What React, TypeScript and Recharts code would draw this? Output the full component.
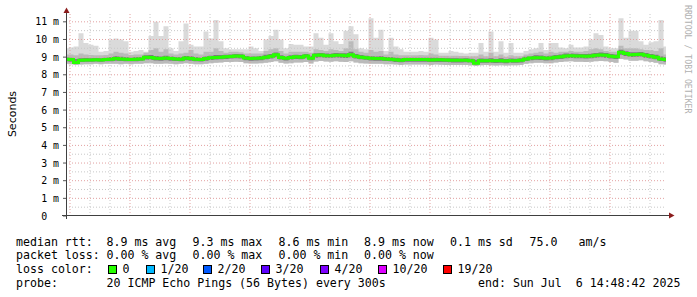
import React from "react";
import { ComposedChart, Area, Line, XAxis, YAxis, ReferenceLine } from "recharts";

// time axis: hours counted from Sat 00:00, one sample every 15 minutes
const START_HOUR = 8.8;
const END_HOUR = 38.8;
const STEP_HOURS = 0.25;

// median rtt (ms)
const medianMs = [
  8.88, 8.86, 8.7, 8.82, 8.84, 8.84, 8.85, 8.84, 8.87, 8.88, 8.92, 8.9, 8.88, 8.87, 8.88, 8.9, 8.99, 8.98, 8.93, 8.92, 8.95, 8.92, 8.9, 8.88,
  8.95, 8.92, 8.88, 8.86, 8.92, 8.96, 8.98, 9.0, 9.02, 9.04, 9.07, 9.05, 8.95, 8.92, 8.93, 8.95, 9.0, 9.05, 9.14, 8.98, 8.93, 8.98, 9.02, 9.0,
  9.06, 8.94, 9.1, 9.12, 9.08, 9.08, 9.1, 9.1, 9.08, 9.13, 9.05, 9.0, 8.97, 8.93, 8.92, 8.92, 8.9, 8.88, 8.85, 8.83, 8.86, 8.86, 8.86, 8.86,
  8.86, 8.84, 8.85, 8.85, 8.84, 8.82, 8.82, 8.82, 8.83, 8.8, 8.65, 8.8, 8.8, 8.8, 8.79, 8.8, 8.78, 8.8, 8.8, 8.82, 8.9, 8.95, 8.97, 8.96,
  8.93, 8.95, 9.0, 9.02, 9.07, 9.08, 9.06, 9.06, 9.05, 9.07, 9.1, 9.12, 9.1, 9.05, 9.02, 9.28, 9.2, 9.14, 9.15, 9.16, 9.1, 9.05, 9.0, 8.9, 8.86,
];

// fastest ping of each round (ms)
const minMs = [
  8.62, 8.6, 8.55, 8.58, 8.6, 8.6, 8.62, 8.6, 8.62, 8.63, 8.62, 8.6, 8.62, 8.6, 8.62, 8.63, 8.65, 8.66, 8.63, 8.62, 8.64, 8.62, 8.6, 8.62,
  8.65, 8.62, 8.6, 8.6, 8.62, 8.66, 8.68, 8.7, 8.72, 8.72, 8.74, 8.72, 8.66, 8.64, 8.64, 8.65, 8.68, 8.72, 8.76, 8.68, 8.64, 8.66, 8.7, 8.7,
  8.72, 8.64, 8.75, 8.78, 8.75, 8.74, 8.76, 8.74, 8.72, 8.76, 8.7, 8.66, 8.64, 8.62, 8.62, 8.62, 8.6, 8.6, 8.58, 8.56, 8.58, 8.58, 8.58, 8.58,
  8.58, 8.56, 8.58, 8.57, 8.56, 8.55, 8.56, 8.56, 8.56, 8.54, 8.5, 8.54, 8.55, 8.54, 8.53, 8.54, 8.52, 8.54, 8.54, 8.56, 8.62, 8.66, 8.68, 8.68,
  8.65, 8.66, 8.7, 8.72, 8.75, 8.76, 8.74, 8.74, 8.72, 8.74, 8.76, 8.78, 8.76, 8.72, 8.68, 8.9, 8.86, 8.8, 8.8, 8.82, 8.76, 8.72, 8.68, 8.6, 8.58,
];

// dense smoke around the median (ms)
const q1Ms = [
  8.76, 8.74, 8.62, 8.72, 8.74, 8.74, 8.75, 8.74, 8.76, 8.77, 8.8, 8.78, 8.77, 8.76, 8.77, 8.79, 8.86, 8.85, 8.81, 8.8, 8.83, 8.8, 8.78, 8.77,
  8.83, 8.8, 8.76, 8.75, 8.8, 8.84, 8.86, 8.88, 8.9, 8.92, 8.94, 8.92, 8.83, 8.8, 8.81, 8.83, 8.88, 8.92, 9.0, 8.86, 8.81, 8.86, 8.9, 8.88,
  8.93, 8.82, 8.97, 9.0, 8.96, 8.96, 8.98, 8.97, 8.95, 9.0, 8.92, 8.88, 8.85, 8.81, 8.8, 8.8, 8.78, 8.76, 8.73, 8.71, 8.74, 8.74, 8.74, 8.74,
  8.74, 8.72, 8.73, 8.73, 8.72, 8.7, 8.7, 8.7, 8.71, 8.68, 8.58, 8.68, 8.68, 8.68, 8.67, 8.68, 8.66, 8.68, 8.68, 8.7, 8.78, 8.83, 8.85, 8.84,
  8.81, 8.83, 8.88, 8.9, 8.94, 8.95, 8.93, 8.93, 8.92, 8.94, 8.97, 8.99, 8.97, 8.92, 8.9, 9.14, 9.07, 9.01, 9.02, 9.03, 8.97, 8.92, 8.88, 8.78, 8.74,
];
const q3Ms = [
  8.98, 8.96, 8.9, 8.93, 8.95, 8.94, 8.95, 8.94, 8.97, 9.0, 9.05, 9.02, 8.99, 8.97, 8.99, 9.0, 9.1, 9.12, 9.06, 9.04, 9.08, 9.03, 9.0, 8.99,
  9.06, 9.05, 9.0, 8.97, 9.04, 9.08, 9.12, 9.12, 9.13, 9.15, 9.18, 9.16, 9.06, 9.03, 9.04, 9.06, 9.13, 9.18, 9.26, 9.1, 9.04, 9.1, 9.13, 9.12,
  9.18, 9.08, 9.22, 9.24, 9.2, 9.21, 9.23, 9.22, 9.22, 9.3, 9.18, 9.12, 9.08, 9.05, 9.04, 9.05, 9.01, 8.99, 8.96, 8.94, 8.97, 8.97, 8.97, 8.97,
  8.97, 8.96, 8.96, 8.95, 8.94, 8.93, 8.93, 8.92, 8.93, 8.91, 8.85, 8.92, 8.91, 8.94, 8.9, 8.93, 8.89, 8.92, 8.91, 8.93, 9.02, 9.07, 9.1, 9.09,
  9.05, 9.08, 9.12, 9.15, 9.2, 9.21, 9.19, 9.18, 9.18, 9.21, 9.24, 9.26, 9.23, 9.18, 9.15, 9.42, 9.33, 9.27, 9.28, 9.29, 9.23, 9.18, 9.13, 9.04, 8.99,
];

// upper smoke, most of the pings (ms)
const p90Ms = [
  9.15, 9.15, 9.1, 9.2, 9.15, 9.12, 9.1, 9.1, 9.12, 9.2, 9.3, 9.25, 9.2, 9.12, 9.15, 9.15, 9.25, 9.4, 9.5, 9.3, 9.45, 9.2, 9.15, 9.2,
  9.25, 9.4, 9.2, 9.15, 9.3, 9.3, 9.5, 9.35, 9.25, 9.3, 9.3, 9.28, 9.2, 9.2, 9.2, 9.2, 9.35, 9.45, 9.5, 9.35, 9.2, 9.3, 9.3, 9.3,
  9.3, 9.25, 9.45, 9.4, 9.35, 9.45, 9.4, 9.35, 9.5, 9.9, 9.45, 9.3, 9.25, 9.4, 9.3, 9.35, 9.15, 9.3, 9.15, 9.1, 9.1, 9.1, 9.1, 9.12,
  9.1, 9.2, 9.15, 9.08, 9.08, 9.08, 9.08, 9.06, 9.06, 9.05, 9.05, 9.15, 9.05, 9.25, 9.05, 9.15, 9.02, 9.1, 9.05, 9.05, 9.15, 9.2, 9.25, 9.3,
  9.2, 9.3, 9.25, 9.3, 9.3, 9.35, 9.3, 9.3, 9.35, 9.45, 9.5, 9.45, 9.35, 9.3, 9.3, 9.65, 9.5, 9.5, 9.5, 9.45, 9.4, 9.4, 9.35, 9.5, 9.15,
];

// slowest ping of each round (ms)
const maxMs = [
  9.5, 9.55, 9.6, 10.35, 9.8, 9.7, 9.65, 9.3, 9.35, 10.0, 10.05, 10.0, 9.9, 9.3, 9.35, 9.4, 9.3, 10.2, 11.0, 10.2, 10.75, 9.5, 9.35, 9.9,
  10.9, 9.7, 9.6, 9.6, 10.45, 10.05, 11.1, 9.9, 9.5, 9.45, 9.45, 9.45, 9.45, 9.6, 9.5, 9.35, 10.0, 10.2, 10.55, 10.0, 9.5, 9.75, 9.7, 9.7,
  9.6, 9.6, 10.35, 10.1, 9.7, 10.35, 9.9, 9.75, 10.5, 10.75, 10.3, 9.5, 9.45, 11.2, 10.1, 10.55, 9.35, 10.1, 9.6, 9.45, 9.3, 9.3, 9.3, 9.35,
  9.3, 10.1, 10.0, 9.25, 9.25, 9.35, 9.3, 9.25, 9.2, 9.25, 9.25, 9.8, 9.3, 10.45, 9.3, 9.9, 9.25, 9.8, 9.25, 9.25, 9.35, 9.45, 9.5, 9.8,
  9.4, 9.8, 9.8, 9.55, 9.5, 9.7, 9.55, 9.55, 9.6, 10.0, 10.35, 10.25, 9.6, 9.5, 9.5, 11.2, 10.1, 10.5, 10.5, 9.9, 9.7, 9.85, 9.9, 11.1, 9.6,
];

const xTicks = [9, 12, 15, 18, 21, 24, 27, 30, 33, 36];
const xLabels: Record<number, string> = {
  12: "Sat 12:00",
  18: "Sat 18:00",
  24: "Sun 00:00",
  30: "Sun 06:00",
  36: "Sun 12:00",
};
const yTicks = [0, 1, 2, 3, 4, 5, 6, 7, 8, 9, 10, 11];
const hourLines = [9, 10, 11, 12, 13, 14, 15, 16, 17, 18, 19, 20, 21, 22, 23, 24, 25, 26, 27, 28, 29, 30, 31, 32, 33, 34, 35, 36, 37, 38];
const halfLines = [0.5, 1.5, 2.5, 3.5, 4.5, 5.5, 6.5, 7.5, 8.5, 9.5, 10.5];

const lossColors = [
  { label: "0", color: "#26ff00", x: 108 },
  { label: "1/20", color: "#00b8ff", x: 146 },
  { label: "2/20", color: "#0059ff", x: 203 },
  { label: "3/20", color: "#5e00ff", x: 261 },
  { label: "4/20", color: "#7e00ff", x: 320 },
  { label: "10/20", color: "#dd00ff", x: 378 },
  { label: "19/20", color: "#ff0000", x: 443 },
];

const data = medianMs.map((m, i) => ({
  t: START_HOUR + i * STEP_HOURS,
  median: m,
  outer: [minMs[i], maxMs[i]],
  mid: [minMs[i], p90Ms[i]],
  core: [q1Ms[i], q3Ms[i]],
}));

const MONO = "'DejaVu Sans Mono', monospace";
const MGRID = "#e2a0a0";
const GRID = "#c8c8c8";

const XTick = (props: any) => {
  const { x, y, payload } = props;
  const label = xLabels[payload.value];
  if (!label) return null;
  return (
    <text x={x} y={y + 7} textAnchor="middle" fontFamily={MONO} fontSize={9.9} fill="#000">
      {label}
    </text>
  );
};

const YTick = (props: any) => {
  const { x, y, payload } = props;
  const label = payload.value === 0 ? "0  " : `${payload.value} m`;
  return (
    <text x={x} y={y + 3.6} textAnchor="end" fontFamily={MONO} fontSize={9.9} fill="#000" xmlSpace="preserve" style={{ whiteSpace: "pre" }}>
      {label}
    </text>
  );
};

const textRows = [
  { y: 245.5, parts: [["median rtt:", 16], ["8.9 ms avg", 106.5], ["9.3 ms max", 192.5], ["8.6 ms min", 278.5], ["8.9 ms now", 364], ["0.1 ms sd", 450], ["75.0", 529.5], ["am/s", 578.5]] },
  { y: 259, parts: [["packet loss:", 16], ["0.00 % avg", 106.5], ["0.00 % max", 192.5], ["0.00 % min", 278.5], ["0.00 % now", 364]] },
  { y: 273, parts: [["loss color:", 16]] },
  { y: 286.5, parts: [["probe:", 16], ["20 ICMP Echo Pings (56 Bytes) every 300s", 106.5], ["end: Sun Jul  6 14:48:42 2025", 478]] },
];

export default function App() {
  return (
    <div style={{ position: "absolute", left: 0, top: 0, width: 697, height: 297, background: "#fff" }}>
      <ComposedChart width={697} height={297} data={data} margin={{ top: 13, right: 31, bottom: 81, left: 0 }}>
        <XAxis
          dataKey="t"
          type="number"
          domain={[START_HOUR, END_HOUR]}
          ticks={xTicks}
          interval={0}
          height={0}
          axisLine={false}
          tickLine={{ stroke: "#555" }}
          tickSize={3}
          tickMargin={3}
          tick={<XTick />}
          allowDataOverflow
        />
        <YAxis
          type="number"
          domain={[0, 11.5]}
          ticks={yTicks}
          interval={0}
          width={66}
          axisLine={false}
          tickLine={{ stroke: "#555" }}
          tickSize={3}
          tickMargin={4}
          tick={<YTick />}
          allowDataOverflow
        />
        {halfLines.map((v) => (
          <ReferenceLine key={`h${v}`} y={v} stroke={GRID} strokeDasharray="1 2" />
        ))}
        {yTicks.filter((v) => v > 0).map((v) => (
          <ReferenceLine key={`m${v}`} y={v} stroke={MGRID} strokeDasharray="1 2" />
        ))}
        {hourLines.map((h) => (
          <ReferenceLine key={`v${h}`} x={h} stroke={h % 3 === 0 ? MGRID : GRID} strokeDasharray="1 2" />
        ))}
        <Area dataKey="outer" type="step" stroke="none" fill="#dadada" fillOpacity={1} isAnimationActive={false} activeDot={false} />
        <Area dataKey="mid" type="step" stroke="none" fill="#bababa" fillOpacity={1} isAnimationActive={false} activeDot={false} />
        <Area dataKey="core" type="step" stroke="none" fill="#7c7c7c" fillOpacity={1} isAnimationActive={false} activeDot={false} />
        <Line dataKey="median" type="step" stroke="#26ff00" strokeWidth={3} dot={false} activeDot={false} isAnimationActive={false} />
      </ComposedChart>
      <svg width={697} height={297} style={{ position: "absolute", left: 0, top: 0, pointerEvents: "none" }}>
        <line x1={66.5} y1={219} x2={66.5} y2={11} stroke="#404040" strokeWidth={1} />
        <polygon points="63.5,13 69.5,13 66.5,7.5" fill="#8b1c1c" />
        <line x1={62} y1={215.5} x2={670} y2={215.5} stroke="#404040" strokeWidth={1} />
        <polygon points="669,212.5 669,218.5 674.5,215.5" fill="#8b1c1c" />
        <text transform="translate(15.5,114) rotate(-90)" textAnchor="middle" fontFamily="'DejaVu Sans', sans-serif" fontSize={11} fill="#000">
          Seconds
        </text>
        <text transform="translate(685,5) rotate(90)" fontFamily={MONO} fontSize={8.2} fill="#b0b0b0">
          RRDTOOL / TOBI OETIKER
        </text>
        {textRows.map((row, ri) =>
          row.parts.map(([s, x], pi) => (
            <text key={`${ri}-${pi}`} x={x as number} y={row.y} fontFamily={MONO} fontSize={11.6} fill="#000" xmlSpace="preserve" style={{ whiteSpace: "pre" }}>
              {s as string}
            </text>
          ))
        )}
        {lossColors.map((c) => (
          <g key={c.label}>
            <rect x={c.x + 0.5} y={265.5} width={8} height={8} fill={c.color} stroke="#000" strokeWidth={1} />
            <text x={c.x + 14.5} y={273} fontFamily={MONO} fontSize={11.6} fill="#000">
              {c.label}
            </text>
          </g>
        ))}
      </svg>
    </div>
  );
}
